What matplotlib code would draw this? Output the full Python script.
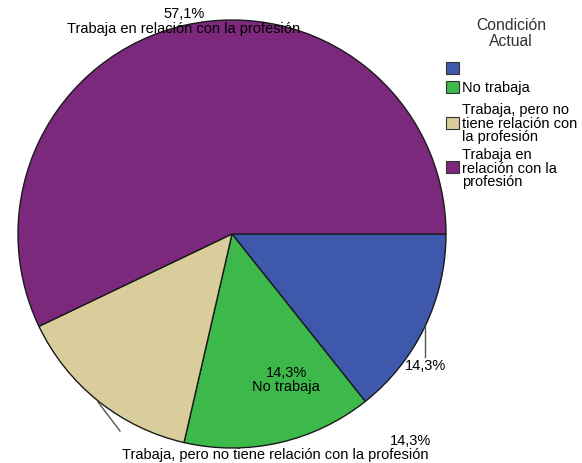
import matplotlib
matplotlib.use("Agg")
import matplotlib.pyplot as plt
from matplotlib.patches import Rectangle

plt.rcParams['font.family'] = ['Liberation Sans', 'DejaVu Sans']

categories = ["", "No trabaja", "Trabaja, pero no tiene relación con la profesión",
              "Trabaja en relación con la profesión"]
legend_lines = [[""], ["No trabaja"],
                ["Trabaja, pero no", "tiene relación con", "la profesión"],
                ["Trabaja en", "relación con la", "profesión"]]
values = [14.3, 14.3, 14.3, 57.1]
pct_labels = ["14,3%", "14,3%", "14,3%", "57,1%"]
colors = ["#3E58AC", "#3DB84B", "#D9CD9C", "#7B287D"]

W, H = 582, 464
fig = plt.figure(figsize=(W / 100, H / 100), dpi=100)
ax = fig.add_axes([0, 0, 1, 1])
cx, cy, r = 232, H - 235, 214
wedges, _ = ax.pie(values, colors=colors, startangle=0, counterclock=False,
                   center=(cx, cy), radius=r, frame=True,
                   wedgeprops=dict(edgecolor="#1a1a1a", linewidth=1.0))
ax.set_xlim(0, W)
ax.set_ylim(0, H)
ax.set_aspect("equal")
ax.axis("off")

fs = 10.5
def y(p):
    return H - p

# blue slice label with leader
ax.plot([425, 425], [y(327), y(358)], color="#555555", lw=1)
ax.text(425, y(366), pct_labels[0], ha="center", va="center", fontsize=fs)
# green slice label inside
ax.text(286, y(373), pct_labels[1], ha="center", va="center", fontsize=fs)
ax.text(286, y(387), categories[1], ha="center", va="center", fontsize=fs)
# beige slice label with leader
ax.plot([98, 120], [y(403), y(432)], color="#555555", lw=1)
ax.text(410, y(441), pct_labels[2], ha="center", va="center", fontsize=fs)
ax.text(275, y(455), categories[2], ha="center", va="center", fontsize=fs)
# purple slice label
ax.text(184, y(14), pct_labels[3], ha="center", va="center", fontsize=fs)
ax.text(184, y(29), categories[3], ha="center", va="center", fontsize=fs)

# legend (drawn manually)
ax.text(511, y(25), "Condición", ha="center", va="center", fontsize=11.3, color="#333333")
ax.text(511, y(42), "Actual", ha="center", va="center", fontsize=11.3, color="#333333")
patch_centers = [69, 88, 124, 168]
first_line = [69, 88, 110, 155]
for c, pc, fl, lines in zip(colors, patch_centers, first_line, legend_lines):
    ax.add_patch(Rectangle((446, y(pc + 6)), 13, 12, facecolor=c,
                           edgecolor="#333333", linewidth=0.8))
    for i, ln in enumerate(lines):
        ax.text(462, y(fl + 13.6 * i), ln, ha="left", va="center", fontsize=fs)

fig.savefig("out.png", dpi=100)
